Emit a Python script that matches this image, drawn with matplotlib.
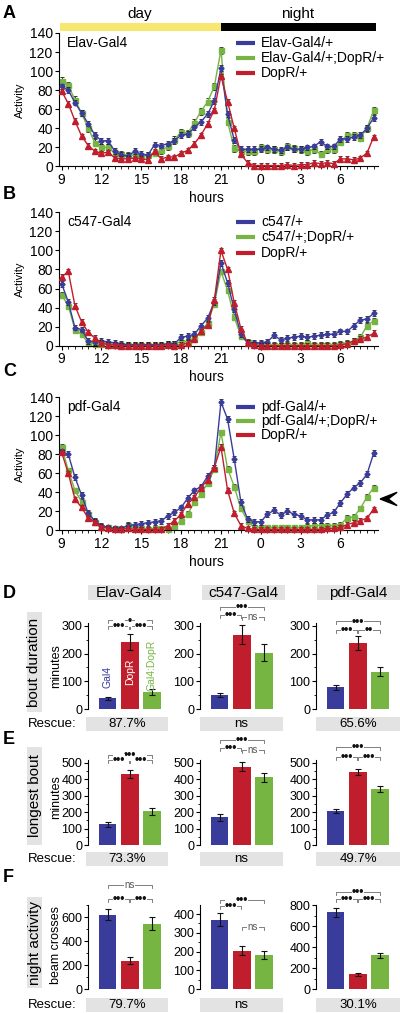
import numpy as np
import matplotlib.pyplot as plt
from matplotlib.patches import Rectangle, Polygon
from matplotlib.ticker import AutoMinorLocator

plt.rcParams['font.family'] = ['Liberation Sans', 'DejaVu Sans']

W, H = 400, 1013
BLUE = '#3a3c9c'
GREEN = '#77b543'
RED = '#c01e2d'
GREY = '#e3e3e3'

# half-hour bins, 9:00 -> 8:30 next morning
hours = np.arange(9, 33, 0.5)
hour_ticks = [9, 12, 15, 18, 21, 24, 27, 30]
hour_labels = ['9', '12', '15', '18', '21', '0', '3', '6']

# ---- A: Elav-Gal4 activity profile
elav_blue = [84, 80, 67, 56, 45, 33, 27, 27, 16, 12, 11, 16, 13, 12, 23, 22, 24, 27, 33, 34, 41, 47, 55, 69, 103,
             55, 28, 18, 18, 18, 18, 20, 18, 17, 20, 18, 18, 20, 21, 26, 21, 21, 29, 29, 31, 33, 40, 51]
elav_green = [90, 85, 70, 56, 40, 25, 20, 20, 14, 13, 12, 12, 11, 12, 14, 17, 21, 28, 36, 35, 46, 58, 68, 84, 122,
              47, 19, 16, 16, 16, 20, 18, 18, 16, 21, 19, 18, 16, 18, 13, 18, 18, 26, 33, 33, 30, 40, 59]
elav_red = [79, 66, 48, 32, 22, 16, 14, 15, 9, 8, 8, 9, 8, 7, 16, 8, 10, 10, 14, 17, 24, 33, 45, 59, 95,
            68, 40, 13, 4, 1, 1, 1, 1, 1, 2, 1, 2, 2, 4, 3, 4, 3, 8, 8, 7, 9, 14, 31]
elav_err = [3.0, 3.5, 2.5]
elav_legend = ['Elav-Gal4/+', 'Elav-Gal4/+;DopR/+', 'DopR/+']

# ---- B: c547-Gal4 activity profile
c547_blue = [65, 46, 19, 17, 5, 4, 5, 4, 3, 2, 1, 1, 1, 1, 1, 1, 2, 2, 9, 10, 12, 21, 29, 46, 87,
             66, 38, 12, 3, 3, 3, 4, 11, 6, 8, 9, 10, 9, 10, 11, 12, 12, 15, 15, 21, 27, 28, 34]
c547_green = [53, 42, 17, 12, 3, 2, 2, 1, 1, 1, 1, 1, 1, 1, 1, 1, 2, 2, 4, 5, 8, 14, 24, 44, 78,
              58, 30, 10, 4, 2, 2, 1, 1, 1, 1, 1, 1, 3, 1, 1, 1, 1, 2, 3, 5, 9, 21, 26]
c547_red = [72, 78, 42, 25, 14, 8, 3, 1, 1, 0, 0, 0, 0, 0, 0, 0, 1, 0, 1, 3, 7, 15, 22, 48, 100,
            80, 45, 18, 3, 1, 0, 0, 0, 0, 0, 0, 0, 0, 0, 0, 0, 0, 1, 2, 5, 7, 9, 13]
c547_err = [3.0, 3.0, 3.0]
c547_legend = ['c547/+', 'c547/+;DopR/+', 'DopR/+']

# ---- C: pdf-Gal4 activity profile
pdf_blue = [83, 80, 56, 37, 18, 10, 5, 3, 2, 2, 5, 6, 7, 8, 9, 10, 15, 19, 24, 34, 42, 46, 57, 66, 135,
            117, 75, 30, 12, 9, 9, 17, 21, 16, 20, 17, 15, 11, 11, 11, 16, 19, 29, 38, 45, 50, 59, 81]
pdf_green = [88, 63, 42, 30, 17, 9, 4, 3, 2, 1, 6, 2, 2, 1, 2, 2, 1, 5, 10, 17, 30, 38, 50, 64, 103,
             65, 46, 23, 10, 3, 3, 3, 3, 3, 3, 3, 3, 4, 5, 5, 5, 5, 6, 13, 14, 23, 35, 45]
pdf_red = [82, 60, 33, 24, 13, 9, 4, 2, 1, 1, 2, 1, 1, 1, 1, 1, 5, 10, 17, 28, 35, 45, 53, 66, 88,
           42, 18, 5, 2, 1, 1, 1, 1, 1, 1, 1, 1, 1, 1, 1, 2, 2, 3, 6, 8, 10, 13, 22]
pdf_err = [3.0, 3.0, 2.5]
pdf_legend = ['pdf-Gal4/+', 'pdf-Gal4/+;DopR/+', 'DopR/+']

# ---- D-F: bar charts (columns: Elav, c547, pdf; bars: Gal4, DopR, Gal4:DopR)
drivers = ['Elav-Gal4', 'c547-Gal4', 'pdf-Gal4']
bout_means = [[38, 242, 62], [50, 268, 203], [78, 238, 135]]
bout_errs = [[5, 30, 10], [8, 35, 30], [8, 25, 15]]
longest_means = [[125, 432, 205], [168, 478, 413], [205, 445, 342]]
longest_errs = [[15, 25, 22], [20, 25, 28], [12, 20, 18]]
night_means = [[620, 235, 545], [370, 205, 180], [730, 140, 320]]
night_errs = [[45, 30, 55], [35, 25, 22], [45, 15, 20]]
bout_rescue = ['87.7%', 'ns', '65.6%']
longest_rescue = ['73.3%', 'ns', '49.7%']
night_rescue = ['79.7%', 'ns', '30.1%']

# significance brackets: (bar a, bar b, height, label)
bout_sig = [[(0, 2, 320, '•'), (0, 1, 300, '•••'), (1, 2, 300, '•••')],
            [(0, 2, 369, '•••'), (0, 1, 340, '•••'), (1, 2, 332, 'ns')],
            [(0, 2, 316, '•••'), (0, 1, 285, '•••'), (1, 2, 285, '••')]]
longest_sig = [[(0, 2, 548, '•••'), (0, 1, 518, '•••'), (1, 2, 518, '•••')],
               [(0, 2, 640, '•••'), (0, 1, 591, '•••'), (1, 2, 579, 'ns')],
               [(0, 2, 597, '•••'), (0, 1, 537, '•••'), (1, 2, 537, '•••')]]
night_sig = [[(0, 2, 867, 'ns'), (0, 1, 750, '•••'), (1, 2, 750, '•••')],
             [(0, 2, 475, '•••'), (0, 1, 443, '•••'), (1, 2, 331, 'ns')],
             [(0, 2, 924, '•••'), (0, 1, 857, '•••'), (1, 2, 857, '•••')]]


def px_rect(left, top, right, bottom):
    return [left / W, 1 - bottom / H, (right - left) / W, (bottom - top) / H]


def grey_box(left, top, right, bottom):
    fig.add_artist(Rectangle((left / W, 1 - bottom / H), (right - left) / W,
                             (bottom - top) / H, transform=fig.transFigure,
                             facecolor=GREY, edgecolor='none', zorder=0))


def ftext(x, y, s, **kw):
    fig.text(x / W, 1 - y / H, s, **kw)


fig = plt.figure(figsize=(W / 100, H / 100), dpi=100)

# day / night bar
bar_ax = fig.add_axes(px_rect(59, 23, 378, 31))
bar_ax.barh(0, 21 - 8.88, left=8.88, height=1, color='#f7e76e')
bar_ax.barh(0, 32.7 - 21, left=21, height=1, color='black')
bar_ax.set_xlim(8.8, 32.83)
bar_ax.set_ylim(-0.5, 0.5)
bar_ax.axis('off')
ftext(140, 14, 'day', fontsize=11, ha='center', va='center')
ftext(298, 14, 'night', fontsize=11, ha='center', va='center')


def activity_panel(top, bottom, series, errs, legend, name, rows):
    hpx = bottom - top
    ax = fig.add_axes(px_rect(59, top, 378, bottom))
    styles = [(BLUE, 'D', 2.6), (GREEN, 's', 3.6), (RED, '^', 3.8)]
    for vals, e, (col, mk, ms), z in zip(series, errs, styles, [3, 2, 4]):
        ax.errorbar(hours, vals, yerr=e, color=col, marker=mk, ms=ms, lw=1.0,
                    mec=col, ecolor='#1a1a1a', elinewidth=0.6, capsize=1.5,
                    capthick=0.6, clip_on=False, zorder=z)
    ax.set_xlim(8.8, 32.83)
    ax.set_ylim(0, 140)
    ax.set_yticks(range(0, 141, 20))
    ax.set_xticks(hour_ticks)
    ax.set_xticklabels(hour_labels)
    ax.set_xticks(hours, minor=True)
    for s in ['top', 'right']:
        ax.spines[s].set_visible(False)
    ax.tick_params(labelsize=10, length=3, width=0.8, pad=1.5)
    ax.tick_params(which='minor', length=2, width=0.6)
    ax.set_xlabel('hours', fontsize=10)
    ax.xaxis.set_label_coords((206 - 59) / 319, -24.5 / hpx)
    ax.set_ylabel('Activity', fontsize=8, labelpad=3)
    ax.text((67 - 59) / 319, 1 - rows[0] / hpx, name, transform=ax.transAxes,
            fontsize=10, va='center', ha='left')
    for lab, col, r in zip(legend, [BLUE, GREEN, RED], rows):
        yy = 1 - r / hpx
        ax.plot([(236 - 59) / 319, (255 - 59) / 319], [yy, yy], color=col, lw=3,
                transform=ax.transAxes, clip_on=False, solid_capstyle='butt')
        ax.text((261 - 59) / 319, yy, lab, transform=ax.transAxes, fontsize=10,
                va='center', ha='left')
    return ax


activity_panel(33, 166.5, [elav_blue, elav_green, elav_red], elav_err,
               elav_legend, 'Elav-Gal4', [10, 25, 40.5])
activity_panel(212.3, 345.7, [c547_blue, c547_green, c547_red], c547_err,
               c547_legend, 'c547-Gal4', [10, 25, 40.5])
axC = activity_panel(397.3, 530.3, [pdf_blue, pdf_green, pdf_red], pdf_err,
                     pdf_legend, 'pdf-Gal4', [10, 24, 38])
axC.add_patch(Polygon([(32.99, 33), (34.27, 40), (33.6, 33), (34.27, 26)],
                      closed=True, color='black', clip_on=False))

for letter, y in zip('ABCDEF', [14, 194, 371, 593, 740, 877]):
    ftext(3, y, letter, fontsize=13, fontweight='bold', va='center', ha='left')


def bar_panel(left, top, bottom, ymax, ticks, means, errs, sig):
    ax = fig.add_axes(px_rect(left, top, left + 75, bottom))
    ax.bar([0, 1, 2], means, width=0.78, color=[BLUE, RED, GREEN], yerr=errs,
           capsize=2.5, error_kw=dict(lw=0.8, capthick=0.8, ecolor='#111111'))
    ax.set_xlim(-0.9, 2.5)
    ax.set_ylim(0, ymax)
    ax.set_yticks(ticks)
    ax.yaxis.set_minor_locator(AutoMinorLocator(2))
    ax.set_xticks([])
    for s in ['top', 'right', 'bottom']:
        ax.spines[s].set_visible(False)
    ax.tick_params(labelsize=9, length=3, width=0.8, pad=1)
    ax.tick_params(which='minor', length=1.8, width=0.6)
    unit = ymax / (bottom - top)
    for a, b, y, lab in sig:
        xa, xb = a + 0.02, b - 0.02
        ax.plot([xa, xa, xb, xb], [y - 3 * unit, y, y, y - 3 * unit], color='#6a6a6a',
                lw=0.6, clip_on=False)
        if lab == 'ns':
            ax.text((xa + xb) / 2, y, lab, fontsize=7, ha='center', va='center',
                    color='#555555', clip_on=False,
                    bbox=dict(facecolor='white', edgecolor='none', pad=0.3))
        else:
            ax.text((xa + xb) / 2, y - 0.3 * unit, lab, fontsize=8.5, ha='center',
                    va='center', fontweight='bold', color='#111111', clip_on=False,
                    bbox=dict(facecolor='white', edgecolor='none', pad=0.0))
    return ax


col_lefts = [88, 200, 316]
for c in range(3):
    axd = bar_panel(col_lefts[c], 623, 709, 310, [0, 100, 200, 300],
                    bout_means[c], bout_errs[c], bout_sig[c])
    if c == 0:
        axd.text(0, 116, 'Gal4', rotation=90, color=BLUE, fontsize=7.5,
                 ha='center', va='center')
        axd.text(1, 134, 'DopR', rotation=90, color='white', fontsize=7.5,
                 ha='center', va='center')
        axd.text(2, 159, 'Gal4:DopR', rotation=90, color=GREEN, fontsize=7.5,
                 ha='center', va='center')
    bar_panel(col_lefts[c], 760, 845, 518, [0, 100, 200, 300, 400, 500],
              longest_means[c], longest_errs[c], longest_sig[c])
night_lims = [700, 448, 800]
night_ticks = [[0, 200, 400, 600], [0, 100, 200, 300, 400], [0, 200, 400, 600, 800]]
for c in range(3):
    bar_panel(col_lefts[c], 905, 989, night_lims[c], night_ticks[c],
              night_means[c], night_errs[c], night_sig[c])

# column headers
head_boxes = [(88, 171), (202, 285), (317, 400)]
for (l, r), name in zip(head_boxes, drivers):
    grey_box(l, 585, r, 600)
    ftext((l + r) / 2, 593, name, fontsize=11, ha='center', va='center')

# rescue rows
resc_boxes = [(86, 168), (200, 283), (316, 400)]
for (top, bot), vals in zip([(717, 731), (852, 866), (998, 1012)],
                            [bout_rescue, longest_rescue, night_rescue]):
    ftext(28, (top + bot) / 2, 'Rescue:', fontsize=9.5, ha='left', va='center')
    for (l, r), v in zip(resc_boxes, vals):
        grey_box(l, top, r, bot)
        ftext((l + r) / 2, (top + bot) / 2, v, fontsize=9.5, ha='center', va='center')

# row labels
for (top, bot), lab in zip([(612, 712), (747, 845), (897, 988)],
                           ['bout duration', 'longest bout', 'night activity']):
    grey_box(27, top, 42, bot)
    ftext(34.5, (top + bot) / 2, lab, fontsize=11, rotation=90, ha='center', va='center')
ftext(56, 666, 'minutes', fontsize=9, rotation=90, ha='center', va='center')
ftext(56, 797, 'minutes', fontsize=9, rotation=90, ha='center', va='center')
ftext(56, 945, 'beam crosses', fontsize=9, rotation=90, ha='center', va='center')

fig.savefig('out.png', dpi=100)
